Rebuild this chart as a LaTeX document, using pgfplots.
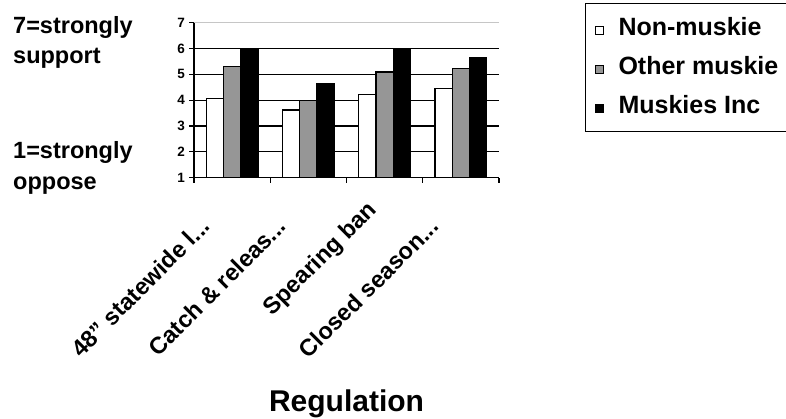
\documentclass[border=0pt]{standalone}
\usepackage{pgfplots}
\pgfplotsset{compat=1.18}
\usepackage{fontspec}
\setmainfont{Liberation Sans}
\definecolor{barGray}{HTML}{969696}
\newcommand{\trdots}{.{}.{}.\kern22pt}
\begin{document}
\begin{tikzpicture}[x=1pt,y=1pt]
\path[use as bounding box] (0,0) rectangle (786,-418);
\begin{axis}[
  at={(194pt,-177.7pt)}, anchor=south west,
  scale only axis, width=305pt, height=155pt,
  xmin=0.5, xmax=4.5, ymin=1, ymax=7,
  axis lines=left, axis line style={-, line width=1.2pt, black},
  ybar=0pt, bar width=17.3pt,
  xtick={0.5,1.5,2.5,3.5,4.5},
  x tick label as interval,
  xticklabels={{48" statewide l\trdots},{Catch \& releas\trdots},{Spearing ban},{Closed season\trdots}},
  xticklabel style={font=\fontsize{23.5}{27}\selectfont\bfseries, inner sep=0pt, xshift=-11pt, yshift=-24pt, rotate=45, anchor=east},
  ytick={1,2,3,4,5,6},
  extra y ticks={7},
  extra y tick style={ymajorgrids=true, major grid style={gray!45, line width=1.2pt}},
  ymajorgrids, major grid style={black, line width=1.1pt},
  tick align=outside, major tick length=5pt,
  tick style={black, line width=1.2pt},
  yticklabel style={font=\fontsize{13.5}{15}\selectfont\bfseries, inner sep=0pt, anchor=east, xshift=-4pt},
  /pgf/number format/assume math mode=true,
  legend style={at={(1.282,1.129)}, anchor=north west, draw=black, line width=1.2pt,
    inner xsep=9pt, inner ysep=18pt, row sep=25pt,
    font=\fontsize{25}{29}\selectfont\bfseries,
    nodes={inner sep=0pt, text height=14pt, text depth=0pt},
    /tikz/every odd column/.style={column sep=14.6pt}},
  legend cell align=left,
  legend image code/.code={\draw[#1, draw=black, line width=0.9pt] (0pt,-6.1pt) rectangle (8.4pt,2.3pt);},
]
\addplot[fill=white, draw=black, line width=1.2pt] coordinates {(1,4.07) (2,3.62) (3,4.23) (4,4.46)};
\addplot[fill=barGray, draw=black, line width=1.2pt] coordinates {(1,5.30) (2,4.00) (3,5.09) (4,5.22)};
\addplot[fill=black, draw=black, line width=1.2pt] coordinates {(1,6.00) (2,4.63) (3,5.99) (4,5.65)};
\legend{Non-muskie, Other muskie, Muskies Inc}
\end{axis}
\begin{scope}[every node/.style={font=\fontsize{23.5}{27}\selectfont\bfseries, anchor=base west, inner sep=0pt}]
\node at (13,-33) {7=strongly};
\node at (13,-63) {support};
\node at (13,-158) {1=strongly};
\node at (13,-189) {oppose};
\end{scope}
\node[font=\fontsize{30}{36}\selectfont\bfseries, anchor=base, inner sep=0pt] at (346.5,-411.7) {Regulation};
\end{tikzpicture}
\end{document}
